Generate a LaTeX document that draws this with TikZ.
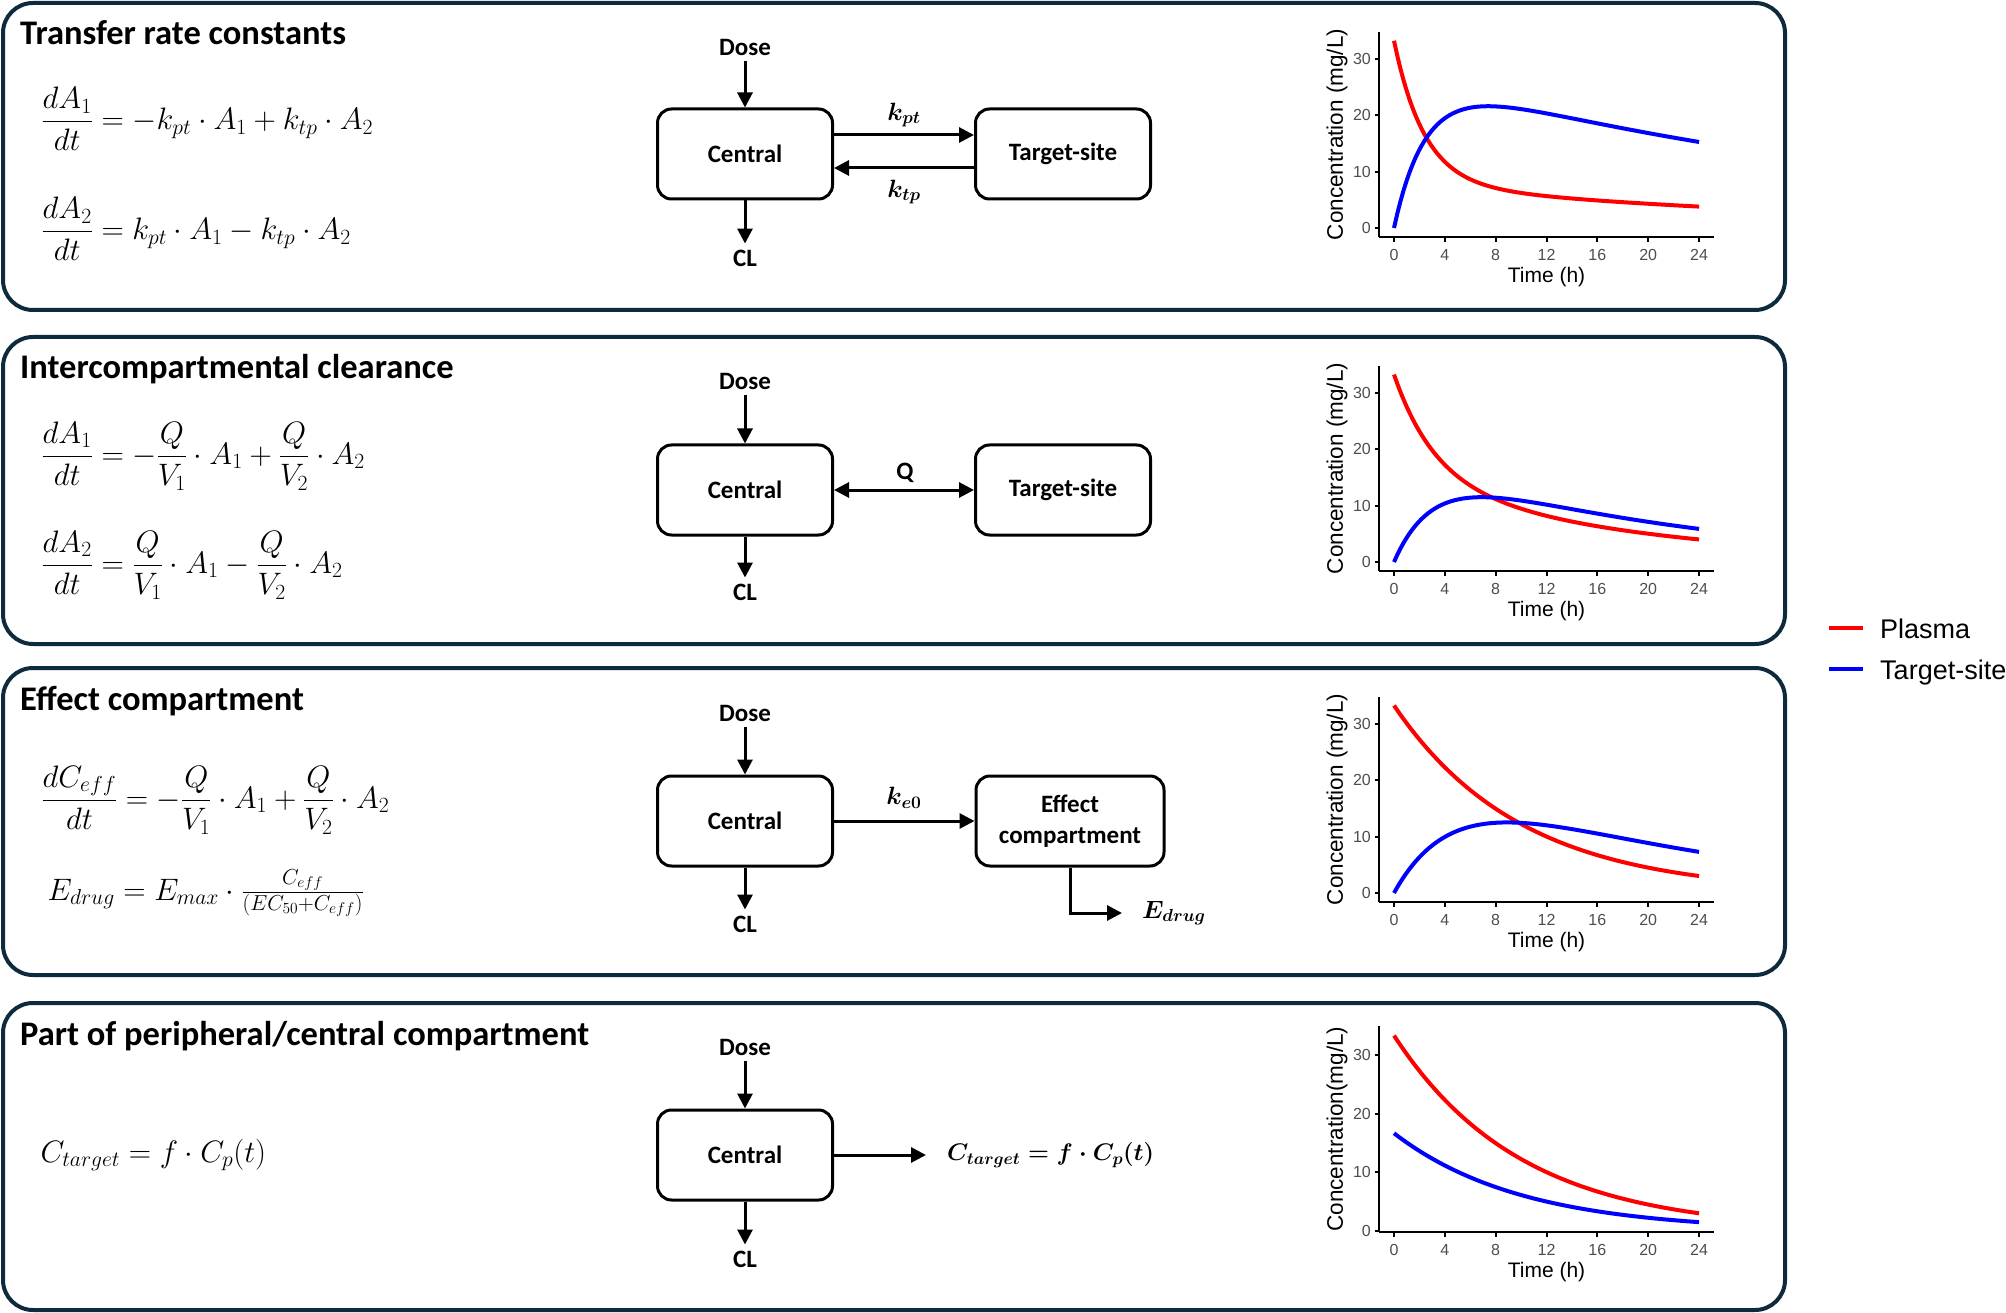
\RequirePackage{fix-cm}
\documentclass[tikz,border=0pt]{standalone}
\usepackage{amsmath}
\usepackage[no-math]{fontspec}
\setmainfont{Carlito}
\newfontfamily\plotfont{Liberation Sans}
\usetikzlibrary{arrows.meta,positioning}
\definecolor{panelnavy}{HTML}{0E2B3D}
\definecolor{tickgray}{HTML}{4D4D4D}

\begin{document}
\begin{tikzpicture}[x=1pt, y=-1pt,
	panel/.style={draw=panelnavy, line width=4pt, rounded corners=30pt},
	ptitle/.style={anchor=base west, inner sep=0pt, font=\fontsize{34.5}{40}\selectfont\bfseries},
	eqn/.style={anchor=west, font=\fontsize{31}{36}\selectfont},
	comp/.style={draw, line width=3pt, rounded corners=14pt, minimum height=90pt, align=center, font=\fontsize{25}{31}\selectfont\bfseries},
	lbl/.style={inner sep=6pt, font=\fontsize{25}{30}\selectfont\bfseries},
	rate/.style={font=\fontsize{25}{30}\selectfont\boldmath},
	flow/.style={line width=3pt, -{Triangle[length=15pt,width=15pt]}},
	both/.style={line width=3pt, {Triangle[length=15pt,width=15pt]}-{Triangle[length=15pt,width=15pt]}},
	axisline/.style={line width=2pt},
	ticklab/.style={inner sep=0pt, text=tickgray, font=\plotfont\fontsize{16}{19}\selectfont},
	axtitle/.style={inner sep=0pt, font=\plotfont\fontsize{21}{24}\selectfont},
	legtext/.style={anchor=base west, inner sep=0pt, font=\plotfont\fontsize{27}{32}\selectfont},
	plasma/.style={draw=red, line width=4pt},
	target/.style={draw=blue, line width=4pt}]
	\useasboundingbox (0,0) rectangle (2006,1313);

	% frames
	\foreach \T in {3,337,668,1003}
		\draw[panel] (3,\T) rectangle (1785,\T+307);

	\node[ptitle] (title1) at (20,45) {Transfer rate constants};
	\node[ptitle] (title2) at (20,379) {Intercompartmental clearance};
	\node[ptitle] (title3) at (20,710) {Effect compartment};
	\node[ptitle] (title4) at (20,1045) {Part of peripheral/central compartment};

	% equations
	\node[eqn] (eq1a) at (38,119) {$\displaystyle\frac{dA_1}{dt}=-k_{pt}\cdot A_1+k_{tp}\cdot A_2$};
	\node[eqn] (eq1b) at (38,229) {$\displaystyle\frac{dA_2}{dt}=k_{pt}\cdot A_1-k_{tp}\cdot A_2$};
	\node[eqn] (eq2a) at (38,456) {$\displaystyle\frac{dA_1}{dt}=-\frac{Q}{V_1}\cdot A_1+\frac{Q}{V_2}\cdot A_2$};
	\node[eqn] (eq2b) at (38,565) {$\displaystyle\frac{dA_2}{dt}=\frac{Q}{V_1}\cdot A_1-\frac{Q}{V_2}\cdot A_2$};
	\node[eqn] (eq3a) at (38,800) {$\displaystyle\frac{dC_{eff}}{dt}=-\frac{Q}{V_1}\cdot A_1+\frac{Q}{V_2}\cdot A_2$};
	\node[eqn, anchor=base west] (eq3b) at (44,900) {$E_{drug}=E_{max}\cdot\frac{C_{eff}}{(EC_{50}+C_{eff})}$};
	\node[eqn, anchor=base west] (eq4) at (37,1162) {$C_{target}=f\cdot C_p(t)$};

	% transfer rate constants
	\node[lbl] (dose1) at (745,47) {Dose};
	\node[comp, minimum width=175pt] (cen1) at (745,154) {Central};
	\node[comp, minimum width=175pt] (tgt1) at (1063,154) {Target-site};
	\node[lbl] (cl1) at (745,258) {CL};
	\draw[flow] (dose1) -- (cen1);
	\draw[flow] (cen1) -- (cl1);
	\draw[flow] ([yshift=19pt]cen1.east) -- ([yshift=19pt]tgt1.west);
	\draw[flow] ([yshift=-14pt]tgt1.west) -- ([yshift=-14pt]cen1.east);
	\node[rate] (kpt) at (904,115) {$k_{pt}$};
	\node[rate] (ktp) at (904,192) {$k_{tp}$};

	% intercompartmental clearance
	\node[lbl] (dose2) at (745,381) {Dose};
	\node[comp, minimum width=175pt] (cen2) at (745,490) {Central};
	\node[comp, minimum width=175pt] (tgt2) at (1063,490) {Target-site};
	\node[lbl] (cl2) at (745,592) {CL};
	\draw[flow] (dose2) -- (cen2);
	\draw[flow] (cen2) -- (cl2);
	\draw[both] (cen2) -- (tgt2);
	\node[lbl] (q2) at (905,473) {Q};

	% effect compartment
	\node[lbl] (dose3) at (745,713) {Dose};
	\node[comp, minimum width=175pt] (cen3) at (745,821) {Central};
	\node[comp, minimum width=188pt] (eff3) at (1070,821) {Effect\\compartment};
	\node[lbl] (cl3) at (745,924) {CL};
	\draw[flow] (dose3) -- (cen3);
	\draw[flow] (cen3) -- (cl3);
	\draw[flow] (cen3) -- (eff3);
	\node[rate] (ke0) at (904,798) {$k_{e0}$};
	\node[rate, anchor=west, inner sep=0pt] (edrug3) at (1142,913) {$E_{drug}$};
	\draw[flow] (eff3.south) |- ([xshift=-20pt]edrug3.west);

	% part of compartment
	\node[lbl] (dose4) at (745,1047) {Dose};
	\node[comp, minimum width=175pt] (cen4) at (745,1155) {Central};
	\node[lbl] (cl4) at (745,1259) {CL};
	\draw[flow] (dose4) -- (cen4);
	\draw[flow] (cen4) -- (cl4);
	\node[rate, anchor=west, inner sep=0pt, font=\fontsize{24}{30}\selectfont\boldmath] (ctar4) at (947,1155) {$C_{target}=f\cdot C_p(t)$};
	\draw[flow] (cen4) -- ([xshift=-21pt]ctar4.west);

	% concentration-time plots
	\foreach \zy/\ys/\ax/\ytop/\ylab/\plas/\targ in {
		228/5.63/1.6/34.8/{Concentration (mg/L)}/{25.3*exp(-0.42*\x)+7.96*exp(-0.0308*\x)}/{27.7*(exp(-0.0248*\x)-exp(-0.40*\x))},
		562/5.63/1.6/34.8/{Concentration (mg/L)}/{18.1*exp(-0.317*\x)+15.2*exp(-0.0557*\x)}/{19.0*(exp(-0.0488*\x)-exp(-0.322*\x))},
		893/5.63/1.6/34.8/{Concentration (mg/L)}/{33.3*exp(-0.1*\x)}/{28.2*(exp(-0.055*\x)-exp(-0.2*\x))},
		1231/5.87/0.17/34.9/{Concentration(mg/L)}/{33.3*exp(-0.1*\x)}/{16.65*exp(-0.1*\x)}} {
		\begin{scope}[shift={(1394,\zy)}, x=12.71pt, y=\ys pt]
			\draw[axisline] (-1.18,-\ax) -- (25.18,-\ax);
			\draw[axisline] (-1.18,-\ax) -- (-1.18,\ytop);
			\foreach \t in {0,4,...,24} {
				\draw[axisline] (\t,-\ax) -- ++(0,-4.5pt);
				\node[ticklab, anchor=north, yshift=-12pt] (xt\t) at (\t,-\ax) {\t};
			}
			\foreach \v in {0,10,20,30} {
				\draw[axisline] (-1.18,\v) -- ++(-4.5pt,0);
				\node[ticklab, anchor=east, xshift=-8pt] (yt\v) at (-1.18,\v) {\v};
			}
			\node[axtitle, yshift=-40pt] (time) at (12,-\ax) {Time (h)};
			\node[axtitle, font=\plotfont\fontsize{22.5}{26}\selectfont, xshift=-42pt, rotate=90] (conc) at (-1.18,{(\ytop-\ax)/2}) {\ylab};
			\draw[plasma] plot[domain=0:24, samples=100] (\x,{\plas});
			\draw[target] plot[domain=0:24, samples=100] (\x,{\targ});
		\end{scope}
	}

	% legend
	\draw[plasma] (1829,628) -- (1863,628);
	\node[legtext] (legplasma) at (1880,638) {Plasma};
	\draw[target] (1829,669) -- (1863,669);
	\node[legtext] (legtarget) at (1880,679) {Target-site};
\end{tikzpicture}
\end{document}
